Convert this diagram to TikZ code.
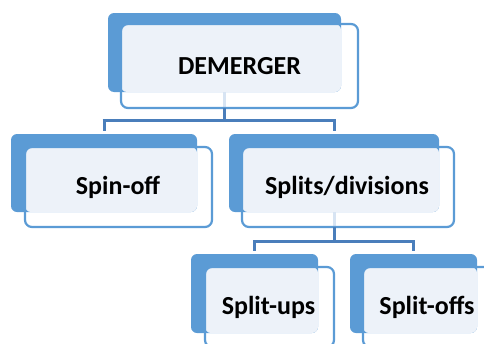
\documentclass[tikz,border=0pt]{standalone}
\usepackage{fontspec}
\setmainfont{Carlito}
\definecolor{backblue}{RGB}{91,155,213}
\definecolor{lightfill}{RGB}{237,242,249}
\definecolor{connblue}{RGB}{74,126,187}
\definecolor{faintblue}{RGB}{215,228,243}
\tikzset{
  backbox/.style={fill=backblue, draw=none, rounded corners=6pt, inner sep=0pt, outer sep=0pt},
  lightbox/.style={fill=lightfill, draw=none, rounded corners=6pt, inner sep=0pt, outer sep=0pt},
  frontbox/.style={draw=backblue, line width=2.2pt, rounded corners=7pt, inner sep=0pt, outer sep=0pt},
  label/.style={font=\fontsize{26}{30}\selectfont\bfseries, inner sep=0pt},
  conn/.style={draw=connblue, line width=3pt},
  faint/.style={draw=faintblue, line width=3pt}
}
\begin{document}
\begin{tikzpicture}[x=1pt,y=-1pt]
\useasboundingbox (0,0) rectangle (484,343);
\clip (0,0) rectangle (484,343);
% DEMERGER
\node[backbox, minimum width=233pt, minimum height=79pt] (demB) at (224.5,52.5) {};
\node[lightbox, minimum width=220pt, minimum height=68pt] (demL) at (231,58) {};
\draw[faint] (demB.south) -- ++(0,16);
\node[frontbox, minimum width=237pt, minimum height=84pt] (demF) at (239.5,66) {};
\node[label] (dem) at (239.5,66) {DEMERGER};
% Spin-off
\node[backbox, minimum width=186pt, minimum height=78pt] (spinB) at (104,173) {};
\node[lightbox, minimum width=172pt, minimum height=65pt] (spinL) at (111,179.5) {};
\node[frontbox, minimum width=187pt, minimum height=80pt] (spinF) at (118.5,187) {};
\node[label] (spin) at (118,187) {Spin-off};
% Splits/divisions
\node[backbox, minimum width=210pt, minimum height=78pt] (splB) at (334,173) {};
\node[lightbox, minimum width=197pt, minimum height=65pt] (splL) at (340.5,179.5) {};
\draw[faint] (splB.south) -- ++(0,14);
\node[frontbox, minimum width=212pt, minimum height=80pt] (splF) at (348,187) {};
\node[label] (spl) at (347,187) {Splits/divisions};
% Split-ups
\node[backbox, minimum width=127pt, minimum height=79pt] (upsB) at (254.5,293.5) {};
\node[lightbox, minimum width=113pt, minimum height=66pt] (upsL) at (261.5,300) {};
\node[frontbox, minimum width=129pt, minimum height=80pt] (upsF) at (269.5,307) {};
\node[label] (ups) at (268.5,307) {Split-ups};
% Split-offs
\node[backbox, minimum width=127pt, minimum height=79pt] (offB) at (413.5,293.5) {};
\node[lightbox, minimum width=114pt, minimum height=66pt] (offL) at (420,300) {};
\node[frontbox, minimum width=129pt, minimum height=80pt] (offF) at (427.5,307) {};
\node[label] (off) at (427,307) {Split-offs};
% connectors
\draw[conn] (demB.center |- demF.south) -- ++(0,12) coordinate (j1);
\draw[conn] ([xshift=-1.5pt]j1 -| spinB.north) -- ([xshift=1.5pt]j1 -| splB.north);
\draw[conn] (j1 -| spinB.north) -- ([yshift=3pt]spinB.north);
\draw[conn] (j1 -| splB.north) -- ([yshift=3pt]splB.north);
\draw[conn] (splB.center |- splF.south) -- ++(0,14) coordinate (j2);
\draw[conn] ([xshift=-1.5pt]j2 -| upsB.north) -- ([xshift=1.5pt]j2 -| offB.north);
\draw[conn] (j2 -| upsB.north) -- ([yshift=3pt]upsB.north);
\draw[conn] (j2 -| offB.north) -- ([yshift=3pt]offB.north);
\end{tikzpicture}
\end{document}
